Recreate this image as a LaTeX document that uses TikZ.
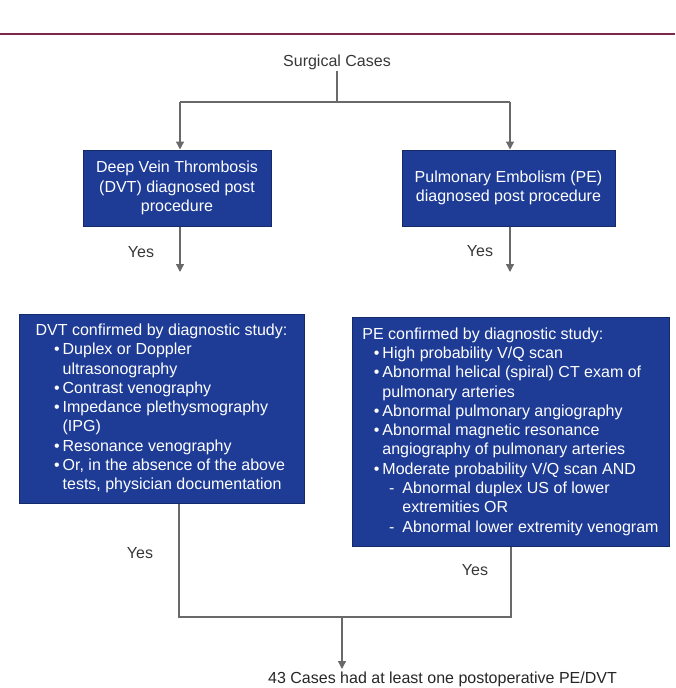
\documentclass[tikz,border=0pt]{standalone}
\usepackage{fontspec}
\setmainfont{Liberation Sans}
\usetikzlibrary{arrows.meta}
\definecolor{boxblue}{RGB}{30,60,150}
\definecolor{rulered}{RGB}{128,40,76}
\definecolor{linegray}{RGB}{105,105,105}
\definecolor{txtgray}{RGB}{55,55,55}
\newcommand{\bitem}[1]{\hspace*{#1}\llap{\textbullet\hspace{3pt}}}
\newcommand{\ditem}[1]{\hspace*{#1}\llap{-\hspace{8pt}}}
\newcommand{\bcont}[1]{\hspace*{#1}}

\begin{document}
\begin{tikzpicture}[x=1pt,y=-1pt,
    txt/.style={font=\fontsize{16}{19.3}\selectfont, text=txtgray, inner sep=1pt},
    bluebox/.style={draw=boxblue!70!black, line width=1pt, fill=boxblue, text=white,
        font=\fontsize{16}{19.3}\selectfont, inner sep=4pt},
    conn/.style={draw=linegray, line width=1.3pt},
    arr/.style={conn, -{Triangle[length=8pt,width=8pt]}}]
    \useasboundingbox (0,0) rectangle (675,688);
    \draw[rulered, line width=2.6pt] (0,34)--(675,34);
    \node[txt] (surg) at (337,62) {Surgical Cases};
    \node[bluebox, minimum width=188, minimum height=76, align=center] (dvt) at (177,188)
        {Deep Vein Thrombosis\\(DVT) diagnosed post\\procedure};
    \node[bluebox, minimum width=213, minimum height=76, align=center] (pe) at (508.5,188)
        {Pulmonary Embolism (PE)\\diagnosed post procedure};
    \node[bluebox, minimum width=285, minimum height=189, align=left] (dvtc) at (161.5,408.5)
        {DVT confirmed by diagnostic study:\\
        \bitem{27pt}Duplex or Doppler\\
        \bcont{27pt}ultrasonography\\
        \bitem{27pt}Contrast venography\\
        \bitem{27pt}Impedance plethysmography\\
        \bcont{27pt}(IPG)\\
        \bitem{27pt}Resonance venography\\
        \bitem{27pt}Or, in the absence of the above\\
        \bcont{27pt}tests, physician documentation};
    \node[bluebox, minimum width=317, minimum height=229, align=left] (pec) at (510.5,431.5)
        {PE confirmed by diagnostic study:\\
        \bitem{20pt}High probability V/Q scan\\
        \bitem{20pt}Abnormal helical (spiral) CT exam of\\
        \bcont{20pt}pulmonary arteries\\
        \bitem{20pt}Abnormal pulmonary angiography\\
        \bitem{20pt}Abnormal magnetic resonance\\
        \bcont{20pt}angiography of pulmonary arteries\\
        \bitem{20pt}Moderate probability V/Q scan AND\\
        \ditem{40pt}Abnormal duplex US of lower\\
        \bcont{40pt}extremities OR\\
        \ditem{40pt}Abnormal lower extremity venogram};
    \node[txt] (yes1) at (141,252) {Yes};
    \node[txt] (yes2) at (480,251) {Yes};
    \node[txt] (yes3) at (140,553) {Yes};
    \node[txt] (yes4) at (475,570) {Yes};
    \node[txt, anchor=base west, text=black!85] (res) at (267,683)
        {43 Cases had at least one postoperative PE/DVT};
    \coordinate (split) at (337,102);
    \coordinate (splitl) at (180,102);
    \coordinate (splitr) at (510,102);
    \coordinate (dvtend) at (180,272);
    \coordinate (peend) at (510,272);
    \coordinate (joinl) at (179,617);
    \coordinate (joinr) at (511,617);
    \coordinate (join) at (342,617);
    \coordinate (resend) at (342,669);
    \draw[conn] (surg) -- (split);
    \draw[conn] (splitl) -- (splitr);
    \draw[arr] (splitl) -- (splitl |- dvt.north);
    \draw[arr] (splitr) -- (splitr |- pe.north);
    \draw[arr] (dvtend |- dvt.south) -- (dvtend);
    \draw[arr] (peend |- pe.south) -- (peend);
    \draw[conn] (joinl |- dvtc.south) -- (joinl) -- (joinr) -- (joinr |- pec.south);
    \draw[arr] (join) -- (resend);
\end{tikzpicture}
\end{document}
